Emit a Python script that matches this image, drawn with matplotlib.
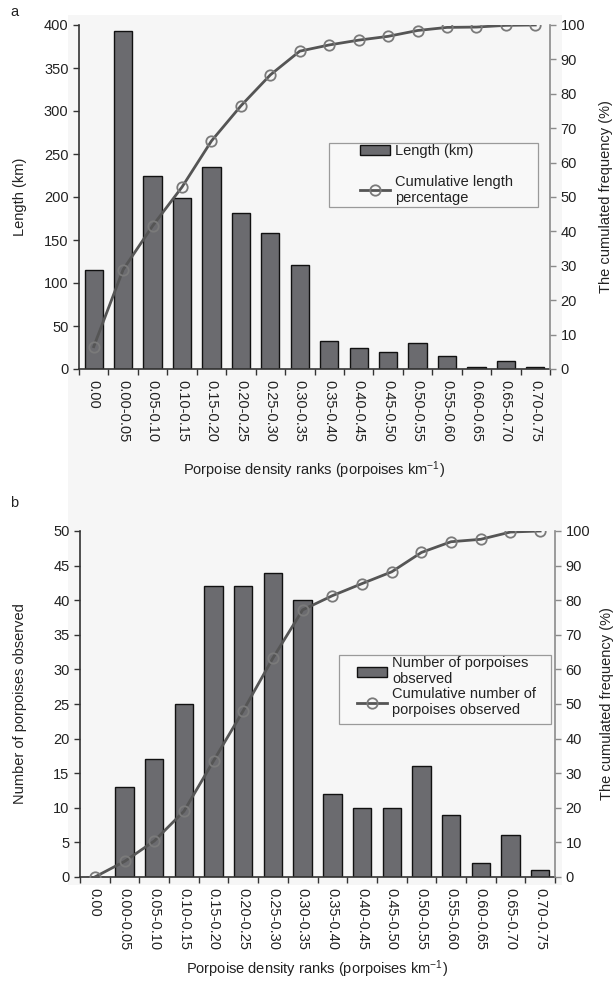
import matplotlib
matplotlib.use("Agg")
import matplotlib.pyplot as plt
from matplotlib.patches import Rectangle
import numpy as np

plt.rcParams['font.family'] = ['Liberation Sans', 'DejaVu Sans']
plt.rcParams['mathtext.default'] = 'regular'

# density rank categories (shared by both panels)
ranks = ['0.00', '0.00-0.05', '0.05-0.10', '0.10-0.15', '0.15-0.20', '0.20-0.25',
         '0.25-0.30', '0.30-0.35', '0.35-0.40', '0.40-0.45', '0.45-0.50', '0.50-0.55',
         '0.55-0.60', '0.60-0.65', '0.65-0.70', '0.70-0.75']

# panel a: survey length per rank and cumulative %
length_km = [115, 393, 224, 199, 235, 181, 158, 121, 32, 24, 20, 30, 15, 2, 9, 2]
length_cum = [6.5, 28.9, 41.6, 52.9, 66.3, 76.5, 85.5, 92.4, 94.2, 95.6, 96.7,
              98.4, 99.3, 99.4, 99.9, 100]

# panel b: porpoises observed per rank and cumulative %
porpoises = [0, 13, 17, 25, 42, 42, 44, 40, 12, 10, 10, 16, 9, 2, 6, 1]
porpoise_cum = [0, 4.5, 10.4, 19.0, 33.6, 48.1, 63.3, 77.2, 81.3, 84.8, 88.2,
                93.8, 96.9, 97.6, 99.7, 100]

BAR = '#6b6b6f'
LINE = '#555555'
MARK = '#7a7a7a'
GRAYAX = '#8a8a8a'
TXT = '#222222'
FS = 10.5

fig = plt.figure(figsize=(6.15, 9.81), dpi=100)
# light gray panel background behind both charts
fig.patches.append(Rectangle((68 / 615, 1 - 885 / 981), (562 - 68) / 615, (885 - 15) / 981,
                             transform=fig.transFigure, facecolor='#f6f6f6',
                             edgecolor='none', zorder=-5))


def panel(rect, bars, cum, ymax, ystep, ylab, bar_label, line_label,
          frame, leg_anchor, spacing, xlabpad, right_lab_x):
    ax = fig.add_axes(rect)
    ax.patch.set_visible(False)
    x = np.arange(len(ranks))
    b = ax.bar(x, bars, width=0.62, color=BAR, edgecolor='#111111', linewidth=1.0,
               zorder=2)
    ax.set_xlim(-0.5, len(ranks) - 0.5)
    ax.set_ylim(0, ymax)
    ax.set_yticks(np.arange(0, ymax + 1, ystep))
    ax.set_xticks(x)
    ax.set_xticklabels(ranks, rotation=270, fontsize=FS, color=TXT)
    ax.set_xticks(np.arange(-0.5, len(ranks), 1.0), minor=True)
    ax.tick_params(axis='x', which='major', length=0, pad=8)
    ax.tick_params(axis='x', which='minor', length=4, width=1, color='#333333')
    ax.tick_params(axis='y', length=4, width=1, color='#333333', labelsize=FS,
                   labelcolor=TXT)
    for s in ['top', 'right']:
        ax.spines[s].set_visible(False)
    for s in ['left', 'bottom']:
        ax.spines[s].set_color('#333333')
        ax.spines[s].set_linewidth(1.2)
    ax.set_ylabel(ylab, fontsize=FS, color=TXT)
    ax.yaxis.set_label_coords(-(rect[0] * 615 - 27) / (rect[2] * 615), 0.5)
    ax.set_xlabel('Porpoise density ranks (porpoises km$^{-1}$)', fontsize=FS,
                  color=TXT, labelpad=xlabpad)

    ax2 = ax.twinx()
    ax2.patch.set_visible(False)
    ln, = ax2.plot(x, cum, color=LINE, linewidth=2, marker='o', markersize=7.5,
                   markerfacecolor='none', markeredgecolor=MARK, markeredgewidth=1.3,
                   zorder=3)
    ax2.set_ylim(0, 100)
    ax2.set_yticks(np.arange(0, 101, 10))
    for s in ['top', 'left', 'bottom']:
        ax2.spines[s].set_visible(False)
    ax2.spines['right'].set_color(GRAYAX)
    ax2.spines['right'].set_linewidth(1.2)
    ax2.tick_params(axis='y', length=4, width=1, color=GRAYAX, labelsize=FS,
                    labelcolor=TXT)
    ax2.set_ylabel('The cumulated frequency (%)', fontsize=FS, color=TXT)
    ax2.yaxis.set_label_coords(right_lab_x, 0.5)

    # legend box drawn separately so it can be wider than its content
    x0, y0, x1, y1 = frame
    ax2.add_patch(Rectangle((x0, y0), x1 - x0, y1 - y0, transform=ax2.transAxes,
                            facecolor='#f8f8f8', edgecolor='#9a9a9a', linewidth=0.9,
                            zorder=4, clip_on=False))
    leg = ax2.legend([b, ln], [bar_label, line_label], loc='upper left',
                     bbox_to_anchor=leg_anchor, frameon=False,
                     fontsize=FS, handlelength=2.05, handletextpad=0.35,
                     borderpad=0, borderaxespad=0, labelspacing=spacing)
    leg.set_zorder(5)
    for t in leg.get_texts():
        t.set_color(TXT)
    return ax, ax2


panel([79 / 615, 1 - 369 / 981, 471 / 615, 344 / 981], length_km, length_cum, 400, 50,
      'Length (km)', 'Length (km)', 'Cumulative length\npercentage',
      (0.531, 0.471, 0.975, 0.657), (0.597, 0.654), 1.15, 12, 1.104)

panel([80 / 615, 1 - 877 / 981, 475 / 615, 346 / 981], porpoises, porpoise_cum, 50, 5,
      'Number of porpoises observed', 'Number of porpoises\nobserved',
      'Cumulative number of\nporpoises observed',
      (0.545, 0.442, 0.992, 0.642), (0.583, 0.638), 0.05, 6, 1.095)

fig.text(10 / 615, 1 - 12 / 981, 'a', fontsize=FS, color=TXT, va='center', ha='left')
fig.text(10 / 615, 1 - 503 / 981, 'b', fontsize=FS, color=TXT, va='center', ha='left')

fig.savefig('out.png', dpi=100)
